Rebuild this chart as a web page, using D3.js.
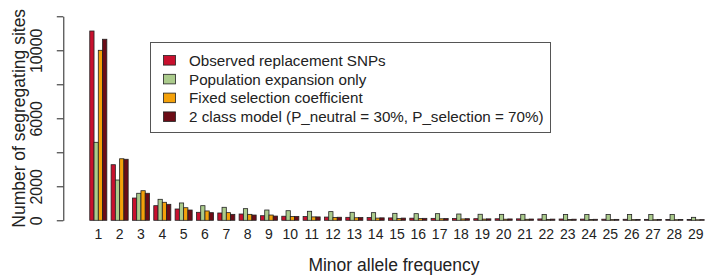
<!DOCTYPE html>
<html>
<head>
<meta charset="utf-8">
<script src="https://cdn.jsdelivr.net/npm/d3@7"></script>
<style>
  body { margin: 0; background: #fff; }
  svg { font-family: "Liberation Sans", Arial, sans-serif; }
</style>
</head>
<body>
<div id="chart"></div>
<script>
// minor allele frequency classes
const categories = d3.range(1, 30).map(String);

const seriesNames = [
    'Observed replacement SNPs',
    'Population expansion only',
    'Fixed selection coefficient',
    '2 class model (P_neutral = 30%, P_selection = 70%)'
];
const seriesColors = ['#c8102e', '#abcb8c', '#f4a10a', '#6c0c16'];

const observed = [11135, 3270, 1310, 860, 665, 470, 430, 370, 270, 240, 220, 190, 175, 160, 140,
    125, 115, 105, 95, 90, 85, 80, 75, 70, 65, 60, 55, 50, 45];
const expansion = [4588, 2370, 1590, 1235, 1020, 860, 765, 685, 605, 565, 530, 510, 470, 450, 410,
    390, 390, 370, 355, 350, 350, 345, 345, 340, 340, 340, 340, 340, 175];
const fixedSel = [10000, 3620, 1740, 1060, 740, 550, 450, 350, 310, 220, 200, 170, 150, 130, 110,
    100, 90, 80, 70, 65, 60, 55, 50, 45, 40, 40, 35, 35, 30];
const twoClass = [10650, 3590, 1590, 940, 605, 450, 350, 310, 250, 230, 200, 180, 160, 145, 130,
    115, 105, 95, 85, 80, 75, 70, 65, 60, 55, 50, 45, 45, 40];

const yTicks = [0, 2000, 4000, 6000, 8000, 10000, 12000];
const yLabels = [0, 2000, 6000, 10000];

const series = [observed, expansion, fixedSel, twoClass];

const width = 715, height = 278;

const svg = d3.select('#chart').append('svg')
    .attr('width', width).attr('height', height);

const x = d3.scaleBand(categories, [85.5, 704.2])
    .paddingInner(0.2).paddingOuter(0.1).align(1);
const xs = d3.scaleBand(d3.range(series.length), [0, x.bandwidth()]);
const y = d3.scaleLinear([0, 12000], [220.3, 16.3]);

// bars
const groups = svg.append('g').selectAll('g')
    .data(categories)
    .join('g')
    .attr('transform', d => `translate(${x(d)},0)`);

groups.selectAll('rect')
    .data((d, i) => series.map((s, k) => ({ k: k, v: s[i] })))
    .join('rect')
    .attr('x', d => xs(d.k))
    .attr('y', d => y(d.v))
    .attr('width', xs.bandwidth())
    .attr('height', d => y(0) - y(d.v))
    .attr('fill', d => seriesColors[d.k])
    .attr('stroke', '#222')
    .attr('stroke-width', 0.8);

// y axis
const axisY = svg.append('g')
    .attr('transform', 'translate(63.3,0)')
    .call(d3.axisLeft(y).tickValues(yTicks).tickSize(6.5).tickSizeOuter(0)
        .tickFormat(d => yLabels.includes(d) ? d : ''));
axisY.select('.domain').attr('stroke', '#222');
axisY.selectAll('.tick line').attr('stroke', '#222');
axisY.selectAll('.tick text')
    .attr('transform', 'rotate(-90)')
    .attr('x', 0).attr('y', -21.5).attr('dy', 0)
    .attr('text-anchor', 'middle')
    .attr('font-size', 16)
    .attr('fill', '#222');

// x labels (no axis line)
const axisX = svg.append('g')
    .attr('transform', `translate(0,${y(0)})`)
    .call(d3.axisBottom(x).tickSize(0));
axisX.select('.domain').remove();
axisX.selectAll('.tick text')
    .attr('y', 19).attr('dy', 0)
    .attr('font-size', 14)
    .attr('fill', '#222');

// axis titles
svg.append('text')
    .attr('x', 394).attr('y', 271)
    .attr('text-anchor', 'middle')
    .attr('font-size', 17.5)
    .attr('fill', '#222')
    .text('Minor allele frequency');

svg.append('text')
    .attr('transform', `translate(24.5,${(y(0) + y(12000)) / 2}) rotate(-90)`)
    .attr('text-anchor', 'middle')
    .attr('font-size', 17.5)
    .attr('fill', '#222')
    .text('Number of segregating sites');

// legend
const legend = svg.append('g');
legend.append('rect')
    .attr('x', 150.5).attr('y', 42.5)
    .attr('width', 400).attr('height', 90)
    .attr('fill', '#fff')
    .attr('stroke', '#555')
    .attr('stroke-width', 1);

const rows = legend.selectAll('g.row')
    .data(seriesNames)
    .join('g')
    .classed('row', true)
    .attr('transform', (d, i) => `translate(0,${60.3 + i * 18.8})`);

rows.append('rect')
    .attr('x', 163.5).attr('y', -4.8)
    .attr('width', 12).attr('height', 9.6)
    .attr('fill', (d, i) => seriesColors[i])
    .attr('stroke', '#222')
    .attr('stroke-width', 0.8);

rows.append('text')
    .attr('x', 189).attr('y', 0)
    .attr('dy', '0.36em')
    .attr('font-size', 15.2)
    .attr('fill', '#222')
    .text(d => d);
</script>
</body>
</html>
